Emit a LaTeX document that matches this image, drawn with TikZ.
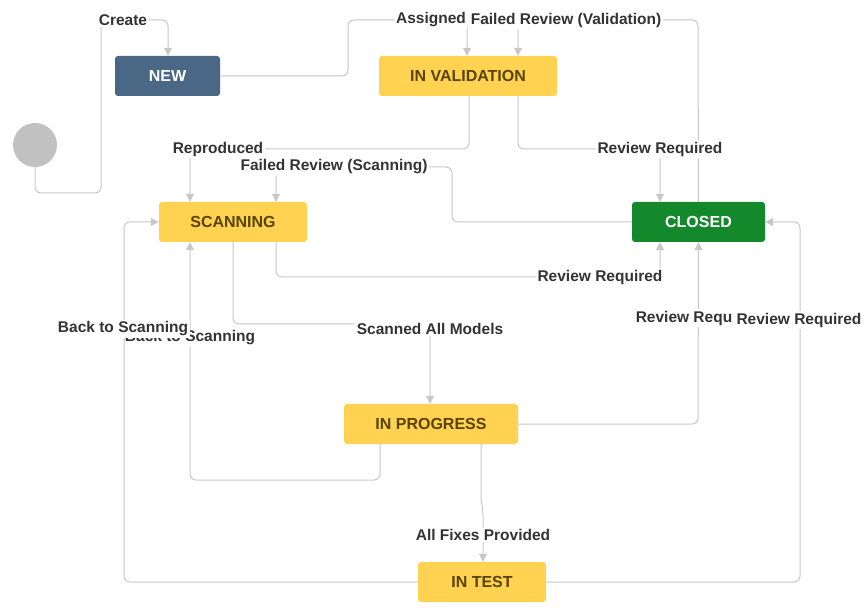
\documentclass[tikz,border=0pt]{standalone}
\usepackage{fontspec}
\setmainfont{Liberation Sans}
\usetikzlibrary{arrows.meta}
\definecolor{ln}{HTML}{C8C8C8}
\definecolor{yel}{HTML}{FFD351}
\definecolor{ytx}{HTML}{594300}
\definecolor{blu}{HTML}{4A6785}
\definecolor{grn}{HTML}{14892C}
\definecolor{txt}{HTML}{333333}
\begin{document}
\begin{tikzpicture}[x=1pt,y=-1pt,
  st/.style={rounded corners=3pt,minimum height=40pt,font=\fontsize{16}{18}\selectfont\bfseries,inner sep=0pt},
  ys/.style={st,fill=yel,text=ytx},
  e/.style={draw=ln,line width=1pt,rounded corners=6pt,-{Triangle[width=8pt,length=8pt]}},
  lb/.style={fill=white,text=txt,font=\fontsize{15.5}{17}\selectfont\bfseries,inner sep=1.5pt}]
\useasboundingbox (0,0) rectangle (868,612);
\fill[white] (0,0) rectangle (868,612);
\node[circle,fill=ln!90!gray,minimum size=44pt,inner sep=0pt] (s) at (35,145) {};
\node[st,fill=blu,text=white,minimum width=105pt] (new) at (167.5,76) {NEW};
\node[ys,minimum width=178pt] (val) at (468,76) {IN VALIDATION};
\node[ys,minimum width=148pt] (scan) at (233,222) {SCANNING};
\node[st,fill=grn,text=white,minimum width=133pt] (cl) at (698.5,222) {CLOSED};
\node[ys,minimum width=174pt] (prog) at (431,424) {IN PROGRESS};
\node[ys,minimum width=128pt] (test) at (482,582) {IN TEST};
% connectors
\draw[e] (s.south) -- (35,193) -- (101,193) -- (101,20) -- (168,20) -- ([xshift=0.5pt]new.north);
\node[lb] at (123,20) {Create};
\draw[e] (new.east) -- (348,76) -- (348,20) -- (467,20) -- ([xshift=-1pt]val.north);
\draw[e] (cl.north) -- (698,20) -- (518,20) -- ([xshift=50pt]val.north);
\node[lb] at (431,20) {Assigned};
\node[lb] at (566,20) {Failed Review (Validation)};
\draw[e] ([xshift=1pt]val.south) -- (469,149) -- (190,149) -- ([xshift=-43pt]scan.north);
\node[lb] at (218,149) {Reproduced};
\draw[e] ([xshift=50pt]val.south) -- (518,149) -- (660,149) -- ([xshift=-38.5pt]cl.north);
\node[lb] at (660,149) {Review Required};
\draw[e] (cl.west) -- (452,222) -- (452,167) -- (276,167) -- ([xshift=43pt]scan.north);
\node[lb] at (334,167) {Failed Review (Scanning)};
\draw[e] ([xshift=43pt]scan.south) -- (276,277) -- (660,277) -- ([xshift=-38.5pt]cl.south);
\node[lb] at (600,277) {Review Required};
\draw[e] (scan.south) -- (233,324) -- (430,324) -- ([xshift=-1pt]prog.north);
\node[lb] at (430,329) {Scanned All Models};
\draw[e] ([xshift=-51pt]prog.south) -- (380,480) -- (190,480) -- ([xshift=-43pt]scan.south);
\node[lb] at (190,338) {Back to Scanning};
\draw[e] (test.west) -- (124,582) -- (124,222) -- (scan.west);
\node[lb] at (123,329) {Back to Scanning};
\draw[e] (prog.east) -- (698,424) -- (cl.south);
\node[lb] at (684,318) {Review Requ};
\draw[e] (test.east) -- (800,582) -- (800,222) -- (cl.east);
\node[lb] at (799,320) {Review Required};
\draw[e] ([xshift=50pt]prog.south) -- (481,500) -- (483,510) -- ([xshift=1pt]test.north);
\node[lb] at (483,535) {All Fixes Provided};
\end{tikzpicture}
\end{document}
